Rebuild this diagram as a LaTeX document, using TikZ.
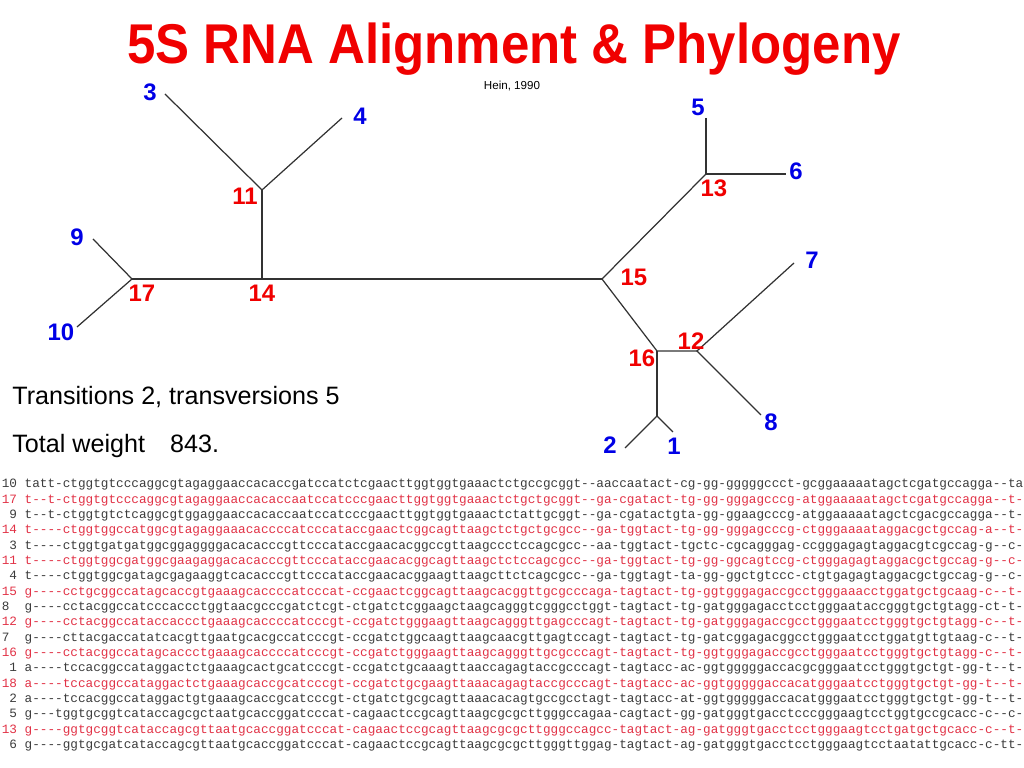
\documentclass[tikz,border=0pt]{standalone}
\usepackage{fontspec}
\setmainfont{Liberation Sans}
\setmonofont{Liberation Mono}
\definecolor{alngrey}{RGB}{60,60,60}
\definecolor{alnred}{RGB}{225,50,70}
\definecolor{leafblue}{RGB}{0,0,230}
\definecolor{jointred}{RGB}{240,0,0}
\definecolor{branchgrey}{RGB}{50,50,50}
\tikzset{
  branch/.style={draw=branchgrey, line width=0.7pt},
  leaf/.style={text=leafblue, font=\fontsize{13.6pt}{16pt}\selectfont\bfseries, inner sep=0pt},
  joint/.style={text=jointred, font=\fontsize{13.6pt}{16pt}\selectfont\bfseries, inner sep=0pt},
  stat/.style={anchor=base west, inner sep=0pt, font=\fontsize{14.3pt}{17pt}\selectfont},
  alnline/.style={anchor=base west, inner sep=0pt, font=\fontsize{7.23pt}{8.7pt}\selectfont\ttfamily}
}
\begin{document}
\begin{tikzpicture}
  \useasboundingbox (0,0) rectangle (20.48,15.36);
  \clip (0,0) rectangle (20.48,15.36);
% Title
  \node[anchor=base, inner sep=0pt, text=jointred, font=\fontsize{29pt}{34pt}\selectfont\bfseries]
    (title) at (10.28,14.094) {\scalebox{1}[1.1]{5S RNA Alignment \& Phylogeny}};
  \node[inner sep=0pt, font=\fontsize{6.6pt}{8pt}\selectfont] (ref) at (10.24,13.64) {Hein, 1990};
% Tree vertices
  \coordinate (v17) at (2.64,9.78);
  \coordinate (v14) at (5.24,9.78);
  \coordinate (v11) at (5.24,11.56);
  \coordinate (v15) at (12.04,9.78);
  \coordinate (v13) at (14.12,11.88);
  \coordinate (v16) at (13.14,8.34);
  \coordinate (v12) at (13.94,8.34);
  \coordinate (v0) at (13.14,7.04);
% Leaf ends
  \coordinate (e3) at (3.30,13.48);
  \coordinate (e4) at (6.84,13.00);
  \coordinate (e9) at (1.86,10.58);
  \coordinate (e10) at (1.54,8.82);
  \coordinate (e5) at (14.12,13.00);
  \coordinate (e6) at (15.72,11.88);
  \coordinate (e7) at (15.88,10.10);
  \coordinate (e8) at (15.22,7.06);
  \coordinate (e2) at (12.50,6.40);
  \coordinate (e1) at (13.46,6.72);
% Branches
  \draw[branch] (e3) -- (v11) -- (e4);
  \draw[branch] (v11) -- (v14);
  \draw[branch] (e9) -- (v17) -- (e10);
  \draw[branch] (v17) -- (v14) -- (v15);
  \draw[branch] (v15) -- (v13);
  \draw[branch] (e5) -- (v13) -- (e6);
  \draw[branch] (v15) -- (v16) -- (v12);
  \draw[branch] (e7) -- (v12) -- (e8);
  \draw[branch] (v16) -- (v0);
  \draw[branch] (e2) -- (v0) -- (e1);
% Leaf labels
  \node[leaf] (t3) at (3.00,13.52) {3};
  \node[leaf] (t4) at (7.20,13.04) {4};
  \node[leaf] (t9) at (1.54,10.62) {9};
  \node[leaf] (t10) at (1.22,8.72) {10};
  \node[leaf] (t5) at (13.96,13.22) {5};
  \node[leaf] (t6) at (15.92,11.94) {6};
  \node[leaf] (t7) at (16.24,10.16) {7};
  \node[leaf] (t8) at (15.42,6.92) {8};
  \node[leaf] (t2) at (12.20,6.46) {2};
  \node[leaf] (t1) at (13.48,6.44) {1};
% Ancestor labels
  \node[joint] (a11) at (4.90,11.44) {11};
  \node[joint] (a17) at (2.84,9.50) {17};
  \node[joint] (a14) at (5.24,9.50) {14};
  \node[joint] (a13) at (14.28,11.60) {13};
  \node[joint] (a15) at (12.68,9.82) {15};
  \node[joint] (a12) at (13.82,8.54) {12};
  \node[joint] (a16) at (12.84,8.20) {16};
% Scores
  \node[stat] (trans) at (0.24,7.26) {Transitions 2, transversions 5};
  \node[stat] (weight) at (0.24,6.306) {Total weight\hspace{1em}843.};
% Alignment
  \foreach \num/\col/\seq [count=\i] in {
    10/alngrey/tatt-ctggtgtcccaggcgtagaggaaccacaccgatccatctcgaacttggtggtgaaactctgccgcggt--aaccaatact-cg-gg-gggggccct-gcggaaaaatagctcgatgccagga--ta,
    17/alnred/t--t-ctggtgtcccaggcgtagaggaaccacaccaatccatcccgaacttggtggtgaaactctgctgcggt--ga-cgatact-tg-gg-gggagcccg-atggaaaaatagctcgatgccagga--t-,
    ~9/alngrey/t--t-ctggtgtctcaggcgtggaggaaccacaccaatccatcccgaacttggtggtgaaactctattgcggt--ga-cgatactgta-gg-ggaagcccg-atggaaaaatagctcgacgccagga--t-,
    14/alnred/t----ctggtggccatggcgtagaggaaacaccccatcccataccgaactcggcagttaagctctgctgcgcc--ga-tggtact-tg-gg-gggagcccg-ctgggaaaataggacgctgccag-a--t-,
    ~3/alngrey/t----ctggtgatgatggcggaggggacacacccgttcccataccgaacacggccgttaagccctccagcgcc--aa-tggtact-tgctc-cgcagggag-ccgggagagtaggacgtcgccag-g--c-,
    11/alnred/t----ctggtggcgatggcgaagaggacacacccgttcccataccgaacacggcagttaagctctccagcgcc--ga-tggtact-tg-gg-ggcagtccg-ctgggagagtaggacgctgccag-g--c-,
    ~4/alngrey/t----ctggtggcgatagcgagaaggtcacacccgttcccataccgaacacggaagttaagcttctcagcgcc--ga-tggtagt-ta-gg-ggctgtccc-ctgtgagagtaggacgctgccag-g--c-,
    15/alnred/g----cctgcggccatagcaccgtgaaagcaccccatcccat-ccgaactcggcagttaagcacggttgcgcccaga-tagtact-tg-ggtgggagaccgcctgggaaacctggatgctgcaag-c--t-,
    8~/alngrey/g----cctacggccatcccaccctggtaacgcccgatctcgt-ctgatctcggaagctaagcagggtcgggcctggt-tagtact-tg-gatgggagacctcctgggaataccgggtgctgtagg-ct-t-,
    12/alnred/g----cctacggccataccaccctgaaagcaccccatcccgt-ccgatctgggaagttaagcagggttgagcccagt-tagtact-tg-gatgggagaccgcctgggaatcctgggtgctgtagg-c--t-,
    7~/alngrey/g----cttacgaccatatcacgttgaatgcacgccatcccgt-ccgatctggcaagttaagcaacgttgagtccagt-tagtact-tg-gatcggagacggcctgggaatcctggatgttgtaag-c--t-,
    16/alnred/g----cctacggccatagcaccctgaaagcaccccatcccgt-ccgatctgggaagttaagcagggttgcgcccagt-tagtact-tg-ggtgggagaccgcctgggaatcctgggtgctgtagg-c--t-,
    ~1/alngrey/a----tccacggccataggactctgaaagcactgcatcccgt-ccgatctgcaaagttaaccagagtaccgcccagt-tagtacc-ac-ggtgggggaccacgcgggaatcctgggtgctgt-gg-t--t-,
    18/alnred/a----tccacggccataggactctgaaagcaccgcatcccgt-ccgatctgcgaagttaaacagagtaccgcccagt-tagtacc-ac-ggtgggggaccacatgggaatcctgggtgctgt-gg-t--t-,
    ~2/alngrey/a----tccacggccataggactgtgaaagcaccgcatcccgt-ctgatctgcgcagttaaacacagtgccgcctagt-tagtacc-at-ggtgggggaccacatgggaatcctgggtgctgt-gg-t--t-,
    ~5/alngrey/g---tggtgcggtcataccagcgctaatgcaccggatcccat-cagaactccgcagttaagcgcgcttgggccagaa-cagtact-gg-gatgggtgacctcccgggaagtcctggtgccgcacc-c--c-,
    13/alnred/g----ggtgcggtcataccagcgttaatgcaccggatcccat-cagaactccgcagttaagcgcgcttgggccagcc-tagtact-ag-gatgggtgacctcctgggaagtcctgatgctgcacc-c--t-,
    ~6/alngrey/g----ggtgcgatcataccagcgttaatgcaccggatcccat-cagaactccgcagttaagcgcgcttgggttggag-tagtact-ag-gatgggtgacctcctgggaagtcctaatattgcacc-c-tt-}
    \node[alnline, text=\col] (row\i) at (0.03,{5.606-(\i-1)*0.307}) {\num\ \seq};
\end{tikzpicture}
\end{document}
